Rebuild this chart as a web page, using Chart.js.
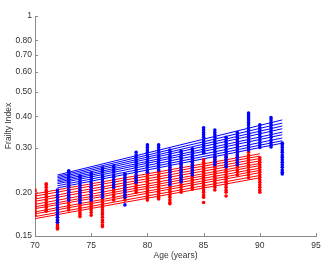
<!DOCTYPE html>
<html><head><meta charset="utf-8">
<script src="https://cdn.jsdelivr.net/npm/chart.js@4"></script>
<style>html,body{margin:0;padding:0;background:#fff;} canvas{display:block;}</style>
</head><body>
<canvas id="c" width="328" height="267"></canvas>
<script>
// ---- data ----
const xTicks = [70, 75, 80, 85, 90, 95];
const yTickValues = [0.134, 0.2, 0.3, 0.4, 0.5, 0.6, 0.7, 0.8, 1];
const yTickLabels = ['0.15', '0.20', '0.30', '0.40', '0.50', '0.60', '0.70', '0.80', '1'];

const blueAges = [72,73,74,75,76,77,78,79,80,81,82,83,84,85,86,87,88,89,90,91,92];
const blueValues = [
  [.204,.200,.195,.191,.186,.182,.178,.174,.170,.166,.163,.159,.155,.152],
  [.243,.240,.234,.229,.224,.219,.214,.209,.204,.200,.195,.191,.186],
  [.232,.229,.224,.219,.214,.209,.204,.200,.195,.191,.186,.182],
  [.238,.234,.229,.224,.219,.214,.209,.204,.200,.195,.191,.186],
  [.250,.245,.240,.234,.229,.224,.219,.214,.209,.204,.200,.195,.191],
  [.254,.251,.245,.240,.234,.229,.224,.219,.214,.209],
  [.236,.234,.229,.224,.219,.214,.209,.204,.200,.195,.191,.178],
  [.288,.281,.275,.269,.263,.257,.251,.245,.240,.234,.229,.224,.219],
  [.308,.301,.294,.288,.281,.275,.269,.263,.257,.251,.245,.240],
  [.308,.301,.294,.288,.281,.275,.269,.263,.257,.251,.245],
  [.294,.288,.281,.275,.269,.263,.257,.251,.245,.240,.234,.229,.224,.219,.214],
  [.291,.288,.281,.275,.269,.263,.257,.251,.245,.240,.234,.229,.224,.220],
  [.297,.294,.288,.281,.275,.269,.263,.257,.251,.245,.240,.234],
  [.360,.353,.345,.338,.330,.322,.315,.308,.301,.294,.288,.286],
  [.353,.345,.338,.330,.322,.315,.308,.301,.294,.288,.281,.275,.269,.263,.257],
  [.330,.322,.315,.308,.301,.294,.288,.281,.275,.269,.263,.257,.252],
  [.345,.338,.330,.322,.315,.308,.301,.294,.288,.281,.275,.269,.263,.257],
  [.412,.405,.396,.387,.378,.370,.361,.353,.345,.338,.330,.322,.315,.308,.301,.294],
  [.370,.361,.353,.345,.338,.330,.322,.315,.308,.301],
  [.395,.387,.378,.370,.361,.353,.345,.338,.330,.322,.315,.308,.302],
  [.313,.308,.301,.294,.288,.281,.275,.269,.263,.257,.251,.245,.240,.236]
];

const redAges = [70,71,72,73,74,75,76,77,78,79,80,81,82,83,84,85,86,87,88,89,90];
const redValues = [
  [.204,.200,.195,.191,.186,.182,.178,.174,.170,.166,.162],
  [.216,.214,.209,.204,.200,.195,.191,.186,.182,.178,.174,.170,.168],
  [.193,.191,.186,.182,.178,.174,.170,.166,.163,.159,.155,.152,.148,.145,.143],
  [.212,.209,.204,.200,.195,.191,.186,.182,.178,.174,.170],
  [.204,.200,.195,.191,.186,.182,.178,.174,.170,.166,.163,.160],
  [.209,.204,.200,.195,.191,.186,.182,.178,.174,.170,.166,.162],
  [.209,.204,.200,.195,.191,.186,.182,.178,.174,.170,.166,.163,.159,.155,.152,.148,.146],
  [.220,.214,.209,.204,.200,.195,.191,.186],
  [.224,.219,.214,.209,.204,.200,.195,.191,.186],
  [.234,.229,.224,.219,.214,.209,.204,.200],
  [.240,.234,.229,.224,.219,.214,.209,.204,.200,.195,.191,.186],
  [.245,.240,.234,.229,.224,.219,.214,.209,.204,.200,.195,.191,.188],
  [.250,.245,.240,.234,.229,.224,.219,.214,.209,.204,.200,.195,.191,.186,.182,.180],
  [.257,.251,.245,.240,.234,.229,.224,.219,.214,.209,.204,.200],
  [.269,.263,.257,.251,.245,.240,.234,.229,.224,.219,.214,.209,.206],
  [.269,.263,.257,.251,.245,.240,.234,.229,.224,.219,.214,.209,.204,.200,.195,.191,.182],
  [.274,.269,.263,.257,.251,.245,.240,.234,.229,.224,.219,.214,.209,.204],
  [.281,.275,.269,.263,.257,.251,.245,.240,.234,.229,.224,.219,.214,.209,.204,.200,.193],
  [.322,.315,.308,.301,.294,.288,.281,.275,.269,.263,.257,.251,.245,.240,.234],
  [.338,.330,.322,.315,.308,.301,.294,.288,.281,.275,.269,.263,.257,.251,.245,.240,.234,.228],
  [.274,.269,.263,.257,.251,.245,.240,.234,.229,.224,.219,.214,.209,.204,.200]
];

const blueLineX = [72, 92];
const blueLineStart = [.234,.231,.228,.225,.222,.219,.216,.212,.208];
const blueLineEnd   = [.387,.376,.366,.357,.346,.338,.328,.320,.313];

const redLineX = [70, 90];
const redLineStart = [.197,.193,.188,.184,.179,.175,.172,.167,.164,.160,.157];
const redLineEnd   = [.284,.278,.272,.266,.260,.255,.249,.244,.239,.233,.228];

// ---- build datasets ----
const BLUE = '#0000ff', RED = '#ff0000';
function stripes(ages, values) {
  const pts = [];
  ages.forEach((a, i) => values[i].forEach(v => pts.push({x: a, y: v})));
  return pts;
}
const datasets = [];
datasets.push({type: 'scatter', data: stripes(blueAges, blueValues), backgroundColor: BLUE,
  borderWidth: 0, pointRadius: 1.8, order: 0});
datasets.push({type: 'scatter', data: stripes(redAges, redValues), backgroundColor: RED,
  borderWidth: 0, pointRadius: 1.8, order: 1});
blueLineStart.forEach((s, i) => datasets.push({type: 'line',
  data: [{x: blueLineX[0], y: s}, {x: blueLineX[1], y: blueLineEnd[i]}],
  borderColor: BLUE, borderWidth: 1, pointRadius: 0, fill: false, order: 2}));
redLineStart.forEach((s, i) => datasets.push({type: 'line',
  data: [{x: redLineX[0], y: s}, {x: redLineX[1], y: redLineEnd[i]}],
  borderColor: RED, borderWidth: 1, pointRadius: 0, fill: false, order: 3}));

const AXIS = '#8a8a8a', TEXT = '#333';
const FONT = {family: '"Liberation Sans", Arial, sans-serif', size: 8.5};

const inwardTicks = {
  id: 'inwardTicks',
  afterDraw(chart) {
    const {ctx, chartArea: a, scales: {x, y}} = chart;
    ctx.save();
    ctx.strokeStyle = AXIS; ctx.lineWidth = 1;
    ctx.beginPath();
    x.ticks.forEach(t => { const p = Math.round(x.getPixelForValue(t.value)) + 0.5;
      ctx.moveTo(p, a.bottom); ctx.lineTo(p, a.bottom - 3); });
    y.ticks.forEach(t => { const p = Math.round(y.getPixelForValue(t.value)) + 0.5;
      ctx.moveTo(a.left, p); ctx.lineTo(a.left + 3, p); });
    ctx.stroke();
    ctx.restore();
  }
};

new Chart(document.getElementById('c'), {
  data: {datasets},
  options: {
    responsive: false, animation: false, devicePixelRatio: 1,
    layout: {padding: {top: 16, right: 12, left: 0, bottom: 0}},
    plugins: {legend: {display: false}, tooltip: {enabled: false}},
    scales: {
      x: {
        type: 'linear', min: 70, max: 95,
        afterBuildTicks: s => { s.ticks = xTicks.map(v => ({value: v})); },
        afterFit: s => { s.height = 31; },
        grid: {display: false, drawTicks: false, tickLength: 0},
        border: {display: true, color: AXIS, width: 1},
        ticks: {color: TEXT, font: FONT, padding: 5, maxRotation: 0, autoSkip: false},
        title: {display: true, text: 'Age (years)', color: TEXT, font: FONT, padding: {top: 0, bottom: 6}}
      },
      y: {
        type: 'logarithmic', min: 0.134, max: 1,
        afterBuildTicks: s => { s.ticks = yTickValues.map(v => ({value: v})); },
        afterFit: s => { s.width = 35; },
        grid: {display: false, drawTicks: false, tickLength: 0},
        border: {display: true, color: AXIS, width: 1},
        ticks: {color: TEXT, font: FONT, padding: 3, autoSkip: false,
          callback: (v, i) => yTickLabels[i]},
        title: {display: true, text: 'Frailty Index', color: TEXT, font: FONT, padding: {top: 4, bottom: 0}}
      }
    }
  },
  plugins: [inwardTicks]
});
</script>
</body></html>
